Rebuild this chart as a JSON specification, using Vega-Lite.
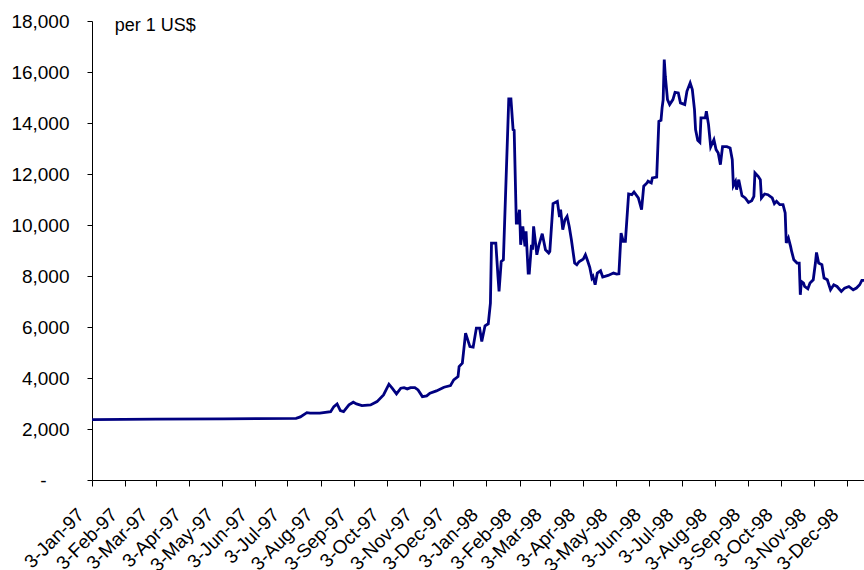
{
  "$schema": "https://vega.github.io/schema/vega-lite/v6.json",
  "width": 772,
  "height": 459,
  "autosize": {"type": "none"},
  "padding": {"left": 92, "top": 21, "right": 0, "bottom": 90},
  "background": "white",
  "config": {
    "view": {"stroke": null},
    "font": "Liberation Sans",
    "axis": {"grid": false, "domainColor": "black", "tickColor": "black", "labelColor": "black", "labelFont": "Liberation Sans", "labelFontSize": 18, "title": null}
  },
  "layer": [
    {
      "data": {"values": [
        {"date":"1997-01-03","rate":2365},{"date":"1997-03-03","rate":2385},{"date":"1997-05-05","rate":2400},{"date":"1997-07-11","rate":2420},
        {"date":"1997-07-15","rate":2473},{"date":"1997-07-21","rate":2642},{"date":"1997-07-24","rate":2619},{"date":"1997-08-02","rate":2619},
        {"date":"1997-08-12","rate":2681},{"date":"1997-08-15","rate":2878},{"date":"1997-08-18","rate":2984},{"date":"1997-08-21","rate":2721},
        {"date":"1997-08-24","rate":2681},{"date":"1997-08-29","rate":2945},{"date":"1997-09-02","rate":3050},{"date":"1997-09-05","rate":2984},
        {"date":"1997-09-10","rate":2917},{"date":"1997-09-18","rate":2945},{"date":"1997-09-24","rate":3074},{"date":"1997-09-30","rate":3337},
        {"date":"1997-10-05","rate":3757},{"date":"1997-10-08","rate":3600},{"date":"1997-10-12","rate":3376},{"date":"1997-10-16","rate":3600},
        {"date":"1997-10-19","rate":3624},{"date":"1997-10-22","rate":3573},{"date":"1997-10-25","rate":3624},{"date":"1997-10-29","rate":3624},
        {"date":"1997-11-01","rate":3533},{"date":"1997-11-05","rate":3270},{"date":"1997-11-09","rate":3298},{"date":"1997-11-12","rate":3404},
        {"date":"1997-11-18","rate":3494},{"date":"1997-11-25","rate":3639},{"date":"1997-12-01","rate":3702},{"date":"1997-12-04","rate":3926},
        {"date":"1997-12-08","rate":4056},{"date":"1997-12-09","rate":4448},{"date":"1997-12-12","rate":4582},{"date":"1997-12-13","rate":4974},
        {"date":"1997-12-15","rate":5759},{"date":"1997-12-19","rate":5233},{"date":"1997-12-22","rate":5210},{"date":"1997-12-25","rate":5956},
        {"date":"1997-12-28","rate":5956},{"date":"1997-12-30","rate":5430},{"date":"1998-01-02","rate":6046},{"date":"1998-01-05","rate":6125},
        {"date":"1998-01-07","rate":6937},{"date":"1998-01-08","rate":9293},{"date":"1998-01-12","rate":9293},{"date":"1998-01-14","rate":7982},
        {"date":"1998-01-15","rate":7393},{"date":"1998-01-17","rate":8571},{"date":"1998-01-19","rate":8637},{"date":"1998-01-24","rate":14946},
        {"date":"1998-01-26","rate":14946},{"date":"1998-01-28","rate":13741},{"date":"1998-01-29","rate":13714},{"date":"1998-01-31","rate":10078},
        {"date":"1998-02-01","rate":10078},{"date":"1998-02-03","rate":10600},{"date":"1998-02-04","rate":9226},{"date":"1998-02-06","rate":9945},
        {"date":"1998-02-08","rate":9159},{"date":"1998-02-09","rate":9748},{"date":"1998-02-11","rate":8115},{"date":"1998-02-12","rate":8115},
        {"date":"1998-02-14","rate":9226},{"date":"1998-02-15","rate":9030},{"date":"1998-02-16","rate":9945},{"date":"1998-02-19","rate":8834},
        {"date":"1998-02-21","rate":9226},{"date":"1998-02-24","rate":9658},{"date":"1998-02-27","rate":9030},{"date":"1998-03-02","rate":8900},
        {"date":"1998-03-03","rate":8963},{"date":"1998-03-06","rate":10836},{"date":"1998-03-10","rate":10926},{"date":"1998-03-12","rate":10314},
        {"date":"1998-03-13","rate":10600},{"date":"1998-03-15","rate":9815},{"date":"1998-03-17","rate":10208},{"date":"1998-03-19","rate":10337},
        {"date":"1998-03-21","rate":9945},{"date":"1998-03-23","rate":9422},{"date":"1998-03-26","rate":8508},{"date":"1998-03-28","rate":8441},
        {"date":"1998-03-30","rate":8559},{"date":"1998-04-02","rate":8637},{"date":"1998-04-03","rate":8665},{"date":"1998-04-05","rate":8834},
        {"date":"1998-04-07","rate":8598},{"date":"1998-04-09","rate":8343},{"date":"1998-04-11","rate":7919},{"date":"1998-04-12","rate":7982},
        {"date":"1998-04-14","rate":7656},{"date":"1998-04-16","rate":8115},{"date":"1998-04-19","rate":8205},{"date":"1998-04-21","rate":7958},
        {"date":"1998-04-26","rate":8021},{"date":"1998-05-01","rate":8115},{"date":"1998-05-04","rate":8076},{"date":"1998-05-06","rate":8088},
        {"date":"1998-05-08","rate":9685},{"date":"1998-05-10","rate":9356},{"date":"1998-05-12","rate":9356},{"date":"1998-05-15","rate":11217},
        {"date":"1998-05-18","rate":11189},{"date":"1998-05-20","rate":11295},{"date":"1998-05-24","rate":11060},{"date":"1998-05-27","rate":10600},
        {"date":"1998-05-29","rate":11523},{"date":"1998-06-01","rate":11648},{"date":"1998-06-02","rate":11719},{"date":"1998-06-05","rate":11648},
        {"date":"1998-06-06","rate":11845},{"date":"1998-06-10","rate":11876},{"date":"1998-06-12","rate":14067},{"date":"1998-06-14","rate":14106},
        {"date":"1998-06-15","rate":14593},{"date":"1998-06-16","rate":14919},{"date":"1998-06-17","rate":16489},{"date":"1998-06-18","rate":15834},
        {"date":"1998-06-20","rate":14919},{"date":"1998-06-22","rate":14723},{"date":"1998-06-25","rate":14919},{"date":"1998-06-27","rate":15205},
        {"date":"1998-06-30","rate":15182},{"date":"1998-07-02","rate":14789},{"date":"1998-07-06","rate":14723},{"date":"1998-07-08","rate":15245},
        {"date":"1998-07-11","rate":15574},{"date":"1998-07-13","rate":15311},{"date":"1998-07-15","rate":14526},{"date":"1998-07-16","rate":13741},
        {"date":"1998-07-18","rate":13321},{"date":"1998-07-20","rate":13242},{"date":"1998-07-21","rate":14200},{"date":"1998-07-25","rate":14200},
        {"date":"1998-07-26","rate":14459},{"date":"1998-07-28","rate":13937},{"date":"1998-07-30","rate":13062},{"date":"1998-08-02","rate":13348},
        {"date":"1998-08-04","rate":12956},{"date":"1998-08-06","rate":12826},{"date":"1998-08-08","rate":12367},{"date":"1998-08-10","rate":13074},
        {"date":"1998-08-14","rate":13074},{"date":"1998-08-17","rate":13023},{"date":"1998-08-19","rate":12563},{"date":"1998-08-20","rate":11542},
        {"date":"1998-08-22","rate":11711},{"date":"1998-08-23","rate":11385},{"date":"1998-08-25","rate":11778},{"date":"1998-08-28","rate":11150},
        {"date":"1998-08-31","rate":11060},{"date":"1998-09-03","rate":10887},{"date":"1998-09-06","rate":10954},{"date":"1998-09-08","rate":11122},
        {"date":"1998-09-09","rate":12041},{"date":"1998-09-12","rate":11908},{"date":"1998-09-14","rate":11778},{"date":"1998-09-15","rate":11060},
        {"date":"1998-09-18","rate":11217},{"date":"1998-09-21","rate":11189},{"date":"1998-09-25","rate":11060},{"date":"1998-09-27","rate":10836},
        {"date":"1998-09-29","rate":10926},{"date":"1998-10-02","rate":10797},{"date":"1998-10-05","rate":10797},{"date":"1998-10-07","rate":10471},
        {"date":"1998-10-08","rate":9293},{"date":"1998-10-10","rate":9489},{"date":"1998-10-12","rate":9159},{"date":"1998-10-13","rate":8963},
        {"date":"1998-10-15","rate":8637},{"date":"1998-10-18","rate":8508},{"date":"1998-10-20","rate":8508},{"date":"1998-10-21","rate":7263},
        {"date":"1998-10-22","rate":7785},{"date":"1998-10-24","rate":7722},{"date":"1998-10-25","rate":7589},{"date":"1998-10-28","rate":7499},
        {"date":"1998-10-30","rate":7722},{"date":"1998-11-02","rate":7852},{"date":"1998-11-04","rate":8508},{"date":"1998-11-05","rate":8924},
        {"date":"1998-11-07","rate":8508},{"date":"1998-11-10","rate":8441},{"date":"1998-11-12","rate":7919},{"date":"1998-11-15","rate":7852},
        {"date":"1998-11-18","rate":7459},{"date":"1998-11-21","rate":7656},{"date":"1998-11-24","rate":7589},{"date":"1998-11-28","rate":7393},
        {"date":"1998-12-01","rate":7526},{"date":"1998-12-05","rate":7589},{"date":"1998-12-09","rate":7459},{"date":"1998-12-12","rate":7526},
        {"date":"1998-12-15","rate":7656},{"date":"1998-12-17","rate":7825},{"date":"1998-12-19","rate":7825}
      ]},
      "mark": {"type": "line", "color": "#000080", "strokeWidth": 2.8, "strokeJoin": "miter", "clip": true},
      "encoding": {
        "x": {
          "field": "date", "type": "temporal",
          "scale": {"type": "utc", "domain": [{"year": 1997, "month": 1, "date": 3, "utc": true}, {"year": 1998, "month": 12, "date": 19, "utc": true}]},
          "axis": {
            "format": "%-d-%b-%y",
            "labelAngle": -45, "labelAlign": "right", "labelBaseline": "top", "labelFontSize": 19,
            "labelPadding": 19, "labelOffset": -18, "tickSize": 6, "tickCount": 40, "labelOverlap": false, "labelFlush": false,
            "values": [
              {"year":1997,"month":1,"date":3,"utc":true},{"year":1997,"month":2,"date":3,"utc":true},{"year":1997,"month":3,"date":3,"utc":true},
              {"year":1997,"month":4,"date":3,"utc":true},{"year":1997,"month":5,"date":3,"utc":true},{"year":1997,"month":6,"date":3,"utc":true},
              {"year":1997,"month":7,"date":3,"utc":true},{"year":1997,"month":8,"date":3,"utc":true},{"year":1997,"month":9,"date":3,"utc":true},
              {"year":1997,"month":10,"date":3,"utc":true},{"year":1997,"month":11,"date":3,"utc":true},{"year":1997,"month":12,"date":3,"utc":true},
              {"year":1998,"month":1,"date":3,"utc":true},{"year":1998,"month":2,"date":3,"utc":true},{"year":1998,"month":3,"date":3,"utc":true},
              {"year":1998,"month":4,"date":3,"utc":true},{"year":1998,"month":5,"date":3,"utc":true},{"year":1998,"month":6,"date":3,"utc":true},
              {"year":1998,"month":7,"date":3,"utc":true},{"year":1998,"month":8,"date":3,"utc":true},{"year":1998,"month":9,"date":3,"utc":true},
              {"year":1998,"month":10,"date":3,"utc":true},{"year":1998,"month":11,"date":3,"utc":true},{"year":1998,"month":12,"date":3,"utc":true}
            ]
          }
        },
        "y": {
          "field": "rate", "type": "quantitative",
          "scale": {"domain": [0, 18000], "nice": false},
          "axis": {
            "values": [0, 2000, 4000, 6000, 8000, 10000, 12000, 14000, 16000, 18000],
            "tickCount": 20,
            "labelExpr": "datum.value == 0 ? '-' : format(datum.value, ',')",
            "labelFontSize": 19,
            "tickSize": 5,
            "labelPadding": {"condition": {"test": "datum.value == 0", "value": 41}, "value": 18},
            "labelFlush": false
          }
        }
      }
    },
    {
      "data": {"values": [{"label": "per 1 US$"}]},
      "mark": {"type": "text", "align": "left", "baseline": "middle", "fontSize": 18, "font": "Liberation Sans", "color": "black"},
      "encoding": {
        "x": {"datum": {"year": 1997, "month": 1, "date": 24, "utc": true}, "type": "temporal"},
        "y": {"datum": 17800, "type": "quantitative"},
        "text": {"field": "label"}
      }
    }
  ]
}
